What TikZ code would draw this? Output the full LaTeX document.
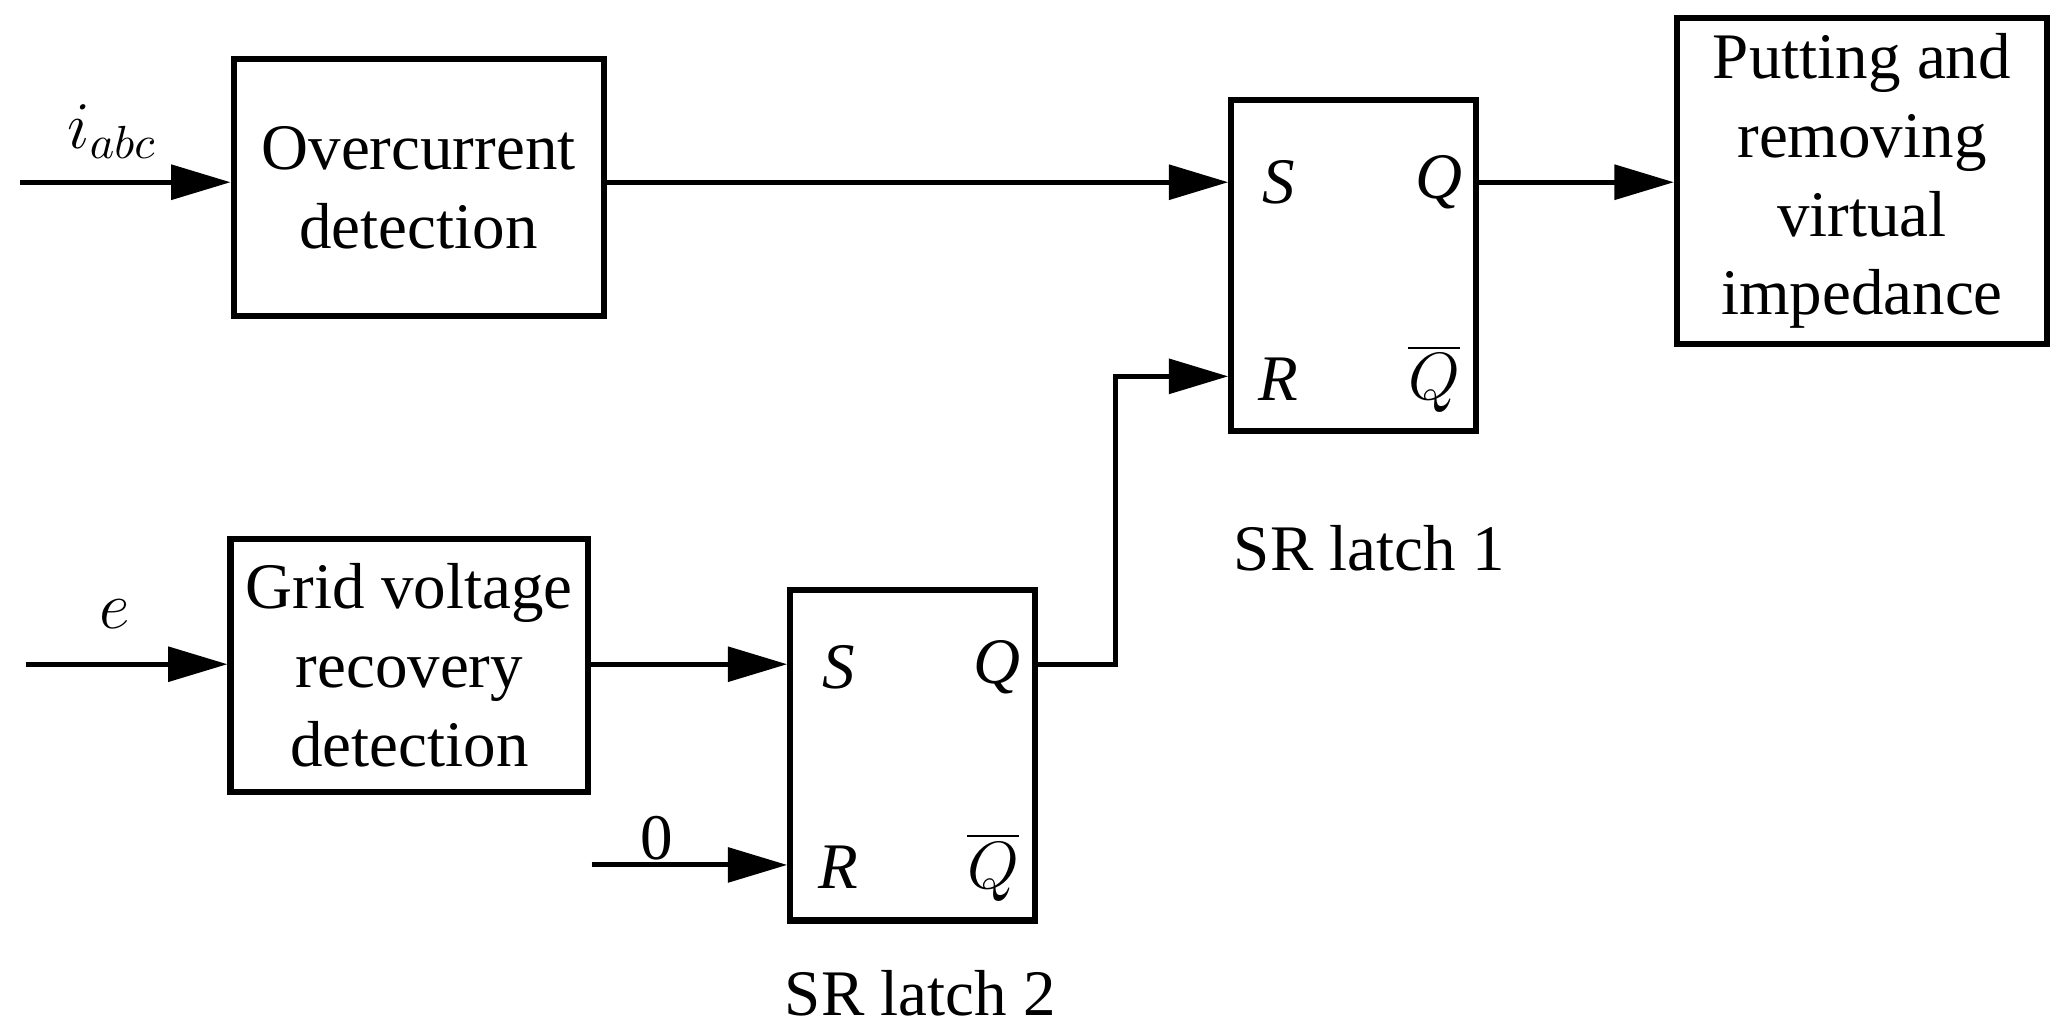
\documentclass[tikz,border=0pt]{standalone}
\usepackage{fontspec}
\setmainfont{Liberation Serif}
\usetikzlibrary{arrows.meta, positioning, calc}

\begin{document}
\begin{tikzpicture}[
            x=0.01cm, y=-0.01cm,
            line width=1.1pt,
            block/.style={rectangle, draw=black, line width=1.3pt, align=center, font=\fontsize{14}{17}\selectfont},
            latch/.style={rectangle, draw=black, line width=1.3pt, minimum width=1.85cm, minimum height=2.5cm},
            pin/.style={font=\fontsize{14}{17}\selectfont\itshape},
            caption/.style={font=\fontsize{14}{17}\selectfont},
            sig/.style={-{Triangle[length=0.45cm, width=0.26cm]}}
        ]

        \useasboundingbox (0,0) rectangle (1560,779);

        % Blocks
        \node[block, minimum width=2.8cm, minimum height=1.95cm] (over) at (317,142) {Overcurrent\\detection};
        \node[block, minimum width=2.66cm, minimum height=1.92cm] (grid) at (310,504) {Grid voltage\\recovery\\detection};
        \node[block, minimum width=2.8cm, minimum height=2.41cm] (put) at (1410,137) {Putting and\\removing\\virtual\\impedance};

        % SR latches
        \node[latch] (L1) at (1025,201) {};
        \node[latch] (L2) at (691,572) {};
        \node[caption] (L1-label) at (1037,415) {SR latch 1};
        \node[caption] (L2-label) at (697,752) {SR latch 2};

        % Latch pins
        \node[pin] (L1-S) at (968,138) {S};
        \node[pin] (L1-Q) at (1090,138) {Q};
        \node[pin] (L1-R) at (968,287) {R};
        \node[pin] (L1-Qb) at (1086,287) {$\overline{Q}$};
        \node[pin] (L2-S) at (635,505) {S};
        \node[pin] (L2-Q) at (755,505) {Q};
        \node[pin] (L2-R) at (635,657) {R};
        \node[pin] (L2-Qb) at (752,657) {$\overline{Q}$};

        % Inputs
        \coordinate (iabc) at (15,138);
        \coordinate (ein) at (20,503);
        \coordinate (zero) at (448,655);
        \node[caption] (iabc-label) at (85,100) {$i_{abc}$};
        \node[caption] (e-label) at (87,465) {$e$};
        \node[caption] (zero-label) at (497,635) {0};

        % Connections
        \draw[sig] (iabc) -- (over.west |- iabc);
        \draw[sig] (over.east |- iabc) -- (L1.west |- iabc);
        \draw[sig] (L1.east |- iabc) -- (put.west |- iabc);
        \draw[sig] (ein) -- (grid.west |- ein);
        \draw[sig] (grid.east |- ein) -- (L2.west |- ein);
        \draw[sig] (zero) -- (L2.west |- zero);
        \draw[sig] (L2.east |- ein) -- (845,503) -- (845,285) -- (L1.west |- 0,285);

\end{tikzpicture}
\end{document}
